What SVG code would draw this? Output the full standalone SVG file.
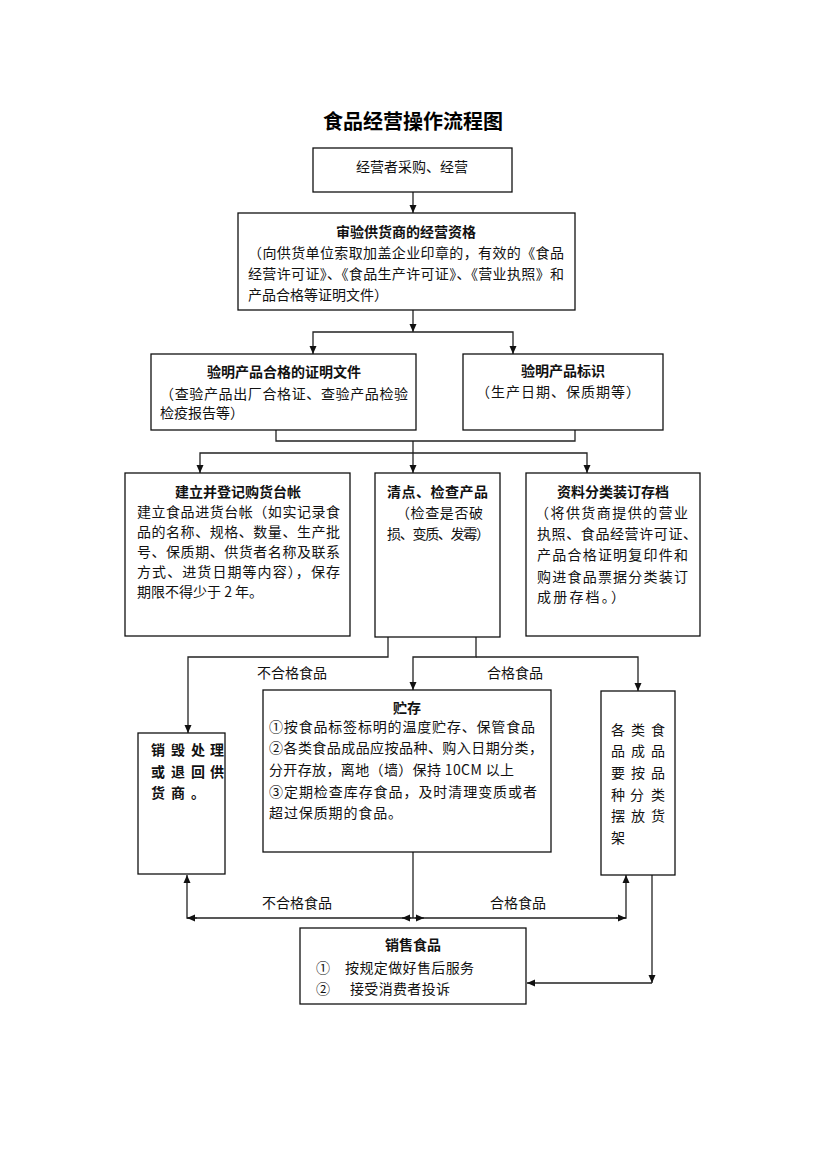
<svg xmlns="http://www.w3.org/2000/svg" width="826" height="1169" viewBox="0 0 826 1169">
<style>
.box{fill:#fff;stroke:#111;stroke-width:1.3}
.c{fill:none;stroke:#222;stroke-width:1.3}
.a{marker-end:url(#ah)}
.t{font-family:"Noto Sans CJK SC","Noto Sans CJK TC",sans-serif;font-size:14px;fill:#111}
.b{font-weight:bold}
.m{text-anchor:middle}
.h{font-family:"Noto Sans CJK SC",sans-serif;font-size:20px;font-weight:bold;fill:#000;text-anchor:middle}
</style>
<defs>
<marker id="ah" viewBox="0 0 8 8" refX="8" refY="4" markerWidth="8" markerHeight="8" markerUnits="userSpaceOnUse" orient="auto">
<path d="M0,0.5 L8,4 L0,7.5 z" fill="#111"/>
</marker>
</defs>
<rect width="826" height="1169" fill="#fff"/>
<text class="h" x="413" y="129">食品经营操作流程图</text>

<g id="connectors">
<path class="c a" d="M413,192 V213"/>
<path class="c a" d="M413,310 V332"/>
<path class="c a" d="M413,332 H313 V354"/>
<path class="c a" d="M413,332 H513 V354"/>
<path class="c" d="M276,430 V441 H575 V430"/>
<path class="c" d="M413,441 V453"/>
<path class="c a" d="M413,453 H200 V473"/>
<path class="c a" d="M413,453 V473"/>
<path class="c a" d="M413,453 H587 V473"/>
<path class="c a" d="M388,637 V657 H188 V733"/>
<path class="c a" d="M476,637 V657 H413 V690"/>
<path class="c a" d="M476,657 H638 V691"/>
<path class="c" d="M413,852 V918"/>
<path class="c a" d="M413,918 H187 V875"/>
<path class="c a" d="M197,918 H187"/>
<path class="c a" d="M411,918 H402"/>
<path class="c a" d="M413,918 H626 V875"/>
<path class="c a" d="M415,918 H424"/>
<path class="c a" d="M616,918 H626"/>
<path class="c a" d="M652,875 V983"/>
<path class="c a" d="M652,983 H527"/>
</g>

<g id="lbl-unq-top"><text class="t m" x="292" y="678">不合格食品</text></g>
<g id="lbl-q-top"><text class="t m" x="515" y="678">合格食品</text></g>
<g id="lbl-unq-bot"><text class="t m" x="297" y="908">不合格食品</text></g>
<g id="lbl-q-bot"><text class="t m" x="518" y="908">合格食品</text></g>

<g id="n1">
<rect class="box" x="313" y="148" width="199" height="44"/>
<text class="t m" x="412" y="172">经营者采购、经营</text>
</g>

<g id="n2">
<rect class="box" x="238" y="213" width="337" height="97"/>
<text class="t b m" x="406" y="237">审验供货商的经营资格</text>
<text class="t" x="248" y="258" textLength="316" lengthAdjust="spacing">（向供货单位索取加盖企业印章的，有效的《食品</text>
<text class="t" x="248" y="279" textLength="316" lengthAdjust="spacing">经营许可证》、《食品生产许可证》、《营业执照》和</text>
<text class="t" x="248" y="300">产品合格等证明文件）</text>
</g>

<g id="n3">
<rect class="box" x="151" y="354" width="265" height="76"/>
<text class="t b m" x="284" y="377">验明产品合格的证明文件</text>
<text class="t" x="160" y="399" textLength="248" lengthAdjust="spacing">（查验产品出厂合格证、查验产品检验</text>
<text class="t" x="160" y="418">检疫报告等）</text>
</g>

<g id="n4">
<rect class="box" x="463" y="354" width="200" height="76"/>
<text class="t b m" x="563" y="376">验明产品标识</text>
<text class="t m" x="558" y="397" textLength="164" lengthAdjust="spacing">（生产日期、保质期等）</text>
</g>

<g id="n5">
<rect class="box" x="125" y="473" width="225" height="163"/>
<text class="t b m" x="238" y="497">建立并登记购货台帐</text>
<text class="t" x="137" y="517" textLength="203" lengthAdjust="spacing">建立食品进货台帐（如实记录食</text>
<text class="t" x="137" y="537" textLength="203" lengthAdjust="spacing">品的名称、规格、数量、生产批</text>
<text class="t" x="137" y="557" textLength="203" lengthAdjust="spacing">号、保质期、供货者名称及联系</text>
<text class="t" x="137" y="577" textLength="203" lengthAdjust="spacing">方式、进货日期等内容），保存</text>
<text class="t" x="137" y="597">期限不得少于 2 年。</text>
</g>

<g id="n6">
<rect class="box" x="375" y="473" width="125" height="164"/>
<text class="t b" x="387" y="497" textLength="101" lengthAdjust="spacing">清点、检查产品</text>
<text class="t" x="396" y="518" textLength="87" lengthAdjust="spacing">（检查是否破</text>
<text class="t" x="387" y="539" textLength="103" lengthAdjust="spacing">损、变质、发霉）</text>
</g>

<g id="n7">
<rect class="box" x="526" y="473" width="174" height="163"/>
<text class="t b m" x="613" y="497">资料分类装订存档</text>
<text class="t" x="535" y="518" textLength="153" lengthAdjust="spacing">（将供货商提供的营业</text>
<text class="t" x="537" y="539" textLength="160" lengthAdjust="spacing">执照、食品经营许可证、</text>
<text class="t" x="537" y="560" textLength="151" lengthAdjust="spacing">产品合格证明复印件和</text>
<text class="t" x="537" y="582" textLength="151" lengthAdjust="spacing">购进食品票据分类装订</text>
<text class="t" x="537" y="602" textLength="88" lengthAdjust="spacing">成册存档。）</text>
</g>

<g id="n8">
<rect class="box" x="138" y="733" width="87" height="141"/>
<text class="t b" x="151 171 191 210" y="755">销毁处理</text>
<text class="t b" x="151 171 191 210" y="777">或退回供</text>
<text class="t b" x="151 171 191" y="798">货商。</text>
</g>

<g id="n9">
<rect class="box" x="263" y="690" width="288" height="162"/>
<text class="t b m" x="407" y="713">贮存</text>
<text class="t" x="269" y="732" textLength="266" lengthAdjust="spacing">①按食品标签标明的温度贮存、保管食品</text>
<text class="t" x="269" y="753" textLength="274" lengthAdjust="spacing">②各类食品成品应按品种、购入日期分类，</text>
<text class="t" x="269" y="775" textLength="245" lengthAdjust="spacing">分开存放，离地（墙）保持 10CM 以上</text>
<text class="t" x="269" y="797" textLength="268" lengthAdjust="spacing">③定期检查库存食品，及时清理变质或者</text>
<text class="t" x="269" y="818" textLength="133" lengthAdjust="spacing">超过保质期的食品。</text>
</g>

<g id="n10">
<rect class="box" x="601" y="691" width="74" height="184"/>
<text class="t" x="611 631 651" y="735">各类食</text>
<text class="t" x="611 631 651" y="756">品成品</text>
<text class="t" x="611 631 651" y="778">要按品</text>
<text class="t" x="611 630 651" y="800">种分类</text>
<text class="t" x="611 631 651" y="821">摆放货</text>
<text class="t" x="611" y="843">架</text>
</g>

<g id="n11">
<rect class="box" x="300" y="928" width="226" height="76"/>
<text class="t b m" x="413" y="950">销售食品</text>
<text class="t" x="316" y="973">①</text>
<text class="t" x="345" y="973" textLength="129" lengthAdjust="spacing">按规定做好售后服务</text>
<text class="t" x="316" y="994">②</text>
<text class="t" x="350" y="994" textLength="100" lengthAdjust="spacing">接受消费者投诉</text>
</g>
</svg>
